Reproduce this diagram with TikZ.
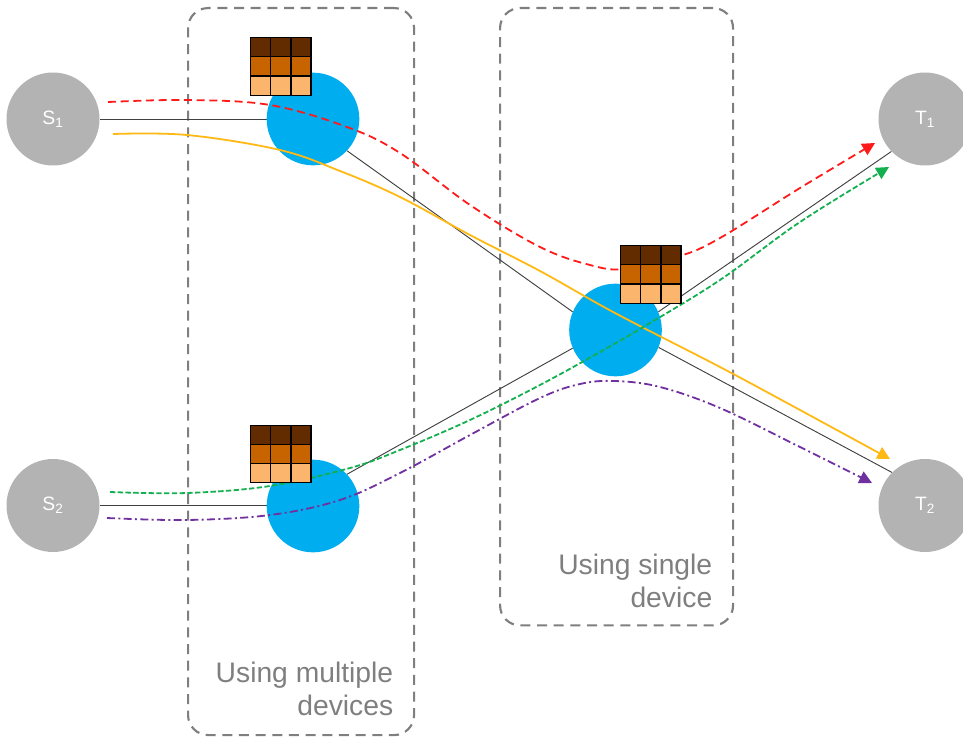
\documentclass[tikz,border=0pt]{standalone}
\usepackage{fontspec}
\setmainfont{Liberation Sans}
\usetikzlibrary{arrows.meta}
\definecolor{hostgray}{HTML}{B3B3B3}
\definecolor{devblue}{HTML}{00ADEE}
\definecolor{boxgray}{HTML}{7F7F7F}
\definecolor{cdark}{HTML}{632C00}
\definecolor{cmid}{HTML}{C86400}
\definecolor{clight}{HTML}{FBB56C}
\definecolor{fred}{HTML}{FF1A1A}
\definecolor{fyellow}{HTML}{FFB914}
\definecolor{fgreen}{HTML}{14B050}
\definecolor{fpurple}{HTML}{7030A0}
\tikzset{
  host/.style={circle,fill=hostgray,inner sep=0pt,minimum size=69.75pt,text=white,font=\fontsize{14.5}{16}\selectfont},
  dev/.style={circle,fill=devblue,inner sep=0pt,minimum size=69.5pt},
  link/.style={draw=black!75,line width=0.7pt},
  region/.style={draw=boxgray,line width=1.6pt,rounded corners=15pt,dash pattern=on 7.5pt off 5pt},
  note/.style={text=boxgray,font=\fontsize{21.2}{24.75}\selectfont,align=right,inner sep=0pt},
  flow/.style={line width=1.35pt,-{Triangle[length=9.5pt,width=9.5pt]}},
  cell/.style={draw=black,line width=0.85pt,minimum width=15pt,minimum height=14.4pt,inner sep=0pt},
  pics/stack/.style={code={
    \foreach \r/\c in {0/cdark,1/cmid,2/clight}{
      \foreach \k in {0,1,2}{
        \node[cell,fill=\c,anchor=north west] (-\r\k) at (\k*20.2,\r*19.2) {};
      }
    }
  }}
}
\begin{document}
\begin{tikzpicture}[x=0.75pt,y=-0.75pt]
\useasboundingbox (0,0) rectangle (963,738);
% regions
\node[region,minimum width=169.5pt,minimum height=545.25pt,anchor=north west,inner sep=0pt] (multi) at (187,7) {};
\node[region,minimum width=174.75pt,minimum height=463pt,anchor=north west,inner sep=0pt] (single) at (499,7) {};
\node[note,anchor=south east] (multilabel) at (393.5,716) {Using multiple\\devices};
\node[note,anchor=south east] (singlelabel) at (712.5,608) {Using single\\device};
% hosts and devices
\node[host] (s1) at (53,119) {S\textsubscript{1}};
\node[host] (s2) at (53,505.5) {S\textsubscript{2}};
\node[host] (t1) at (925,119) {T\textsubscript{1}};
\node[host] (t2) at (925,505.5) {T\textsubscript{2}};
\draw[link] (s1) -- (s1 -| 267,119.5);
\draw[link] (s2) -- (s2 -| 267,506);
\node[dev] (b1) at (313,119) {};
\node[dev] (b2) at (313,506) {};
\node[dev] (b3) at (615.5,330) {};
\draw[link] (b1.-43) -- (b3.157);
\draw[link] (b3.-22) -- (t2.135);
\draw[link] (b2.43) -- (b3.203);
\draw[link] (b3.23) -- (t1.224);
% flows
\draw[flow,fred,dash pattern=on 6pt off 3.5pt] plot[smooth,tension=0.6] coordinates {(108,102) (187,100) (270,105) (347,127) (400,153) (470,205) (540,247) (590,265) (625,269) (680,256) (720,238) (800,188) (875,143)};
\draw[flow,fyellow] plot[smooth,tension=0.6] coordinates {(113,134) (187,135) (280,150) (340,171) (400,197) (470,235) (540,271) (615,313) (720,367) (800,410) (890,459)};
\draw[flow,fgreen,dash pattern=on 4pt off 1.8pt] plot[smooth,tension=0.6] coordinates {(110,492) (187,493) (270,486) (350,468) (400,450) (470,420) (540,385) (600,352) (645,326) (720,280) (800,222) (889,167)};
\draw[flow,fpurple,dash pattern=on 6pt off 2.5pt on 1.5pt off 2.5pt] plot[smooth,tension=0.6] coordinates {(107,518) (187,520) (270,515) (340,500) (400,473) (470,435) (540,398) (580,384) (615,381) (660,387) (720,408) (800,447) (872,483)};
% state tables
\pic (g1) at (250,37) {stack};
\pic (g2) at (250,424.5) {stack};
\pic (g3) at (620,245) {stack};
\end{tikzpicture}
\end{document}
